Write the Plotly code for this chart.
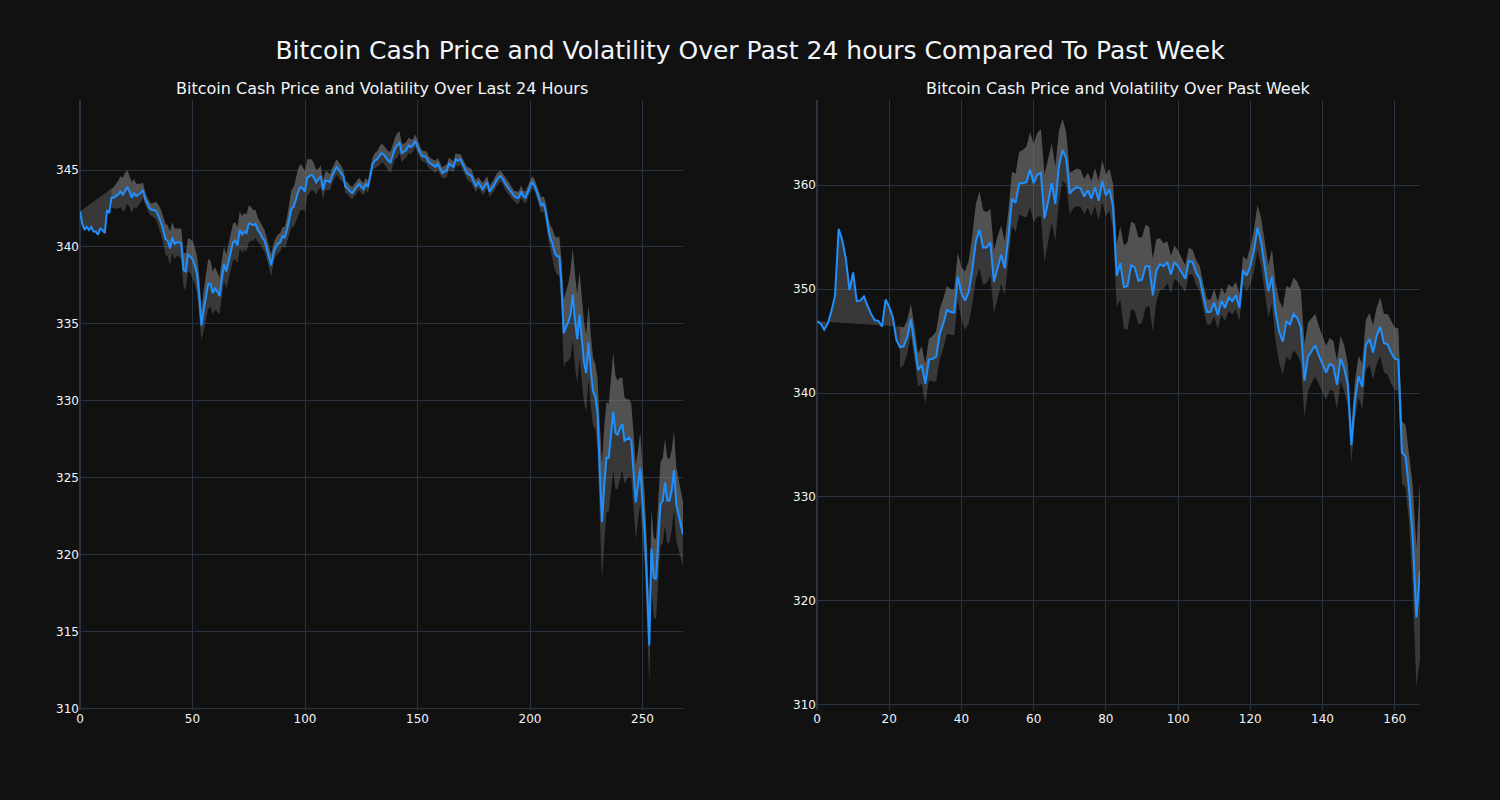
import plotly.graph_objects as go
from plotly.subplots import make_subplots

# ---------------- data: last 24 hours (5-minute steps) ----------------
day_price = [
    342.3, 341.5, 341.1, 341.3, 341.1, 341.3, 341.0, 341.0, 340.8, 341.2,
    341.1, 340.9, 342.4, 342.2, 343.2, 343.2, 343.3, 343.4, 343.6, 343.4,
    343.6, 343.9, 343.6, 343.2, 343.5, 343.3, 343.4, 343.5, 343.7, 343.1,
    342.8, 342.5, 342.4, 342.4, 342.3, 342.0, 341.6, 341.1, 340.5, 340.4,
    339.9, 340.6, 340.2, 340.3, 340.3, 340.2, 338.5, 338.4, 339.5, 339.4,
    339.2, 338.8, 338.2, 336.8, 334.9, 335.9, 336.8, 337.6, 337.6, 337.0,
    337.3, 337.1, 336.8, 337.9, 338.9, 338.4, 339.0, 339.5, 340.3, 340.4,
    340.1, 341.1, 340.8, 341.0, 340.9, 341.5, 341.5, 341.4, 341.5, 341.1,
    340.9, 340.6, 340.4, 339.9, 339.4, 338.8, 339.6, 340.0, 340.2, 340.3,
    340.7, 340.6, 341.1, 341.8, 342.5, 342.6, 343.1, 343.6, 343.9, 343.8,
    343.6, 344.5, 344.6, 344.7, 344.5, 344.2, 344.4, 344.6, 343.7, 344.3,
    344.3, 344.2, 344.6, 344.9, 345.2, 345.0, 344.8, 344.6, 343.9, 343.8,
    343.6, 343.5, 343.7, 343.9, 344.1, 343.9, 343.75, 344.1, 343.9, 344.6,
    345.4, 345.6, 345.7, 345.9, 346.1, 346.0, 345.8, 345.6, 345.5, 346.0,
    346.4, 346.6, 346.8, 346.1, 346.2, 346.3, 346.6, 346.5, 346.6, 346.9,
    346.5, 346.2, 345.9, 345.9, 345.8, 345.5, 345.4, 345.3, 345.2, 345.4,
    345.1, 344.8, 344.9, 344.95, 345.4, 345.3, 345.2, 345.7, 345.6, 345.7,
    345.4, 345.1, 344.8, 344.7, 344.6, 344.2, 343.95, 344.2, 344.0, 343.75,
    344.0, 344.2, 343.6, 343.8, 344.0, 344.3, 344.5, 344.6, 344.4, 344.1,
    343.9, 343.7, 343.5, 343.3, 343.2, 343.2, 343.6, 343.3, 343.2, 343.6,
    343.9, 344.2, 344.0, 343.6, 343.1, 342.7, 342.8, 342.3, 341.3, 340.6,
    340.2, 339.6, 339.4, 339.4, 337.5, 334.4, 334.8, 335.1, 335.6, 336.9,
    335.2, 334.0, 335.6, 334.0, 332.5, 331.8, 333.8, 332.0, 330.6, 330.3,
    329.2, 325.5, 322.1, 324.5, 326.3, 326.3, 328.0, 329.3, 327.9, 327.8,
    328.2, 328.5, 327.4, 327.5, 327.6, 327.4, 325.5, 323.4, 324.5, 325.6,
    323.4, 321.5, 318.0, 314.1, 320.4, 318.5, 318.4, 321.0, 323.3, 323.5,
    324.7, 323.5, 323.5, 324.2, 325.5, 323.3, 322.7, 322.0, 321.3,
]

day_vol = (
    [None] * 14
    + [0.6, 0.7, 0.8, 0.9, 1.0, 1.1]
    + [1.2, 1.1, 1.0, 1.0, 0.9, 0.8, 0.7, 0.6]
    + [0.5, 0.4, 0.4, 0.4, 0.4, 0.5]
    + [0.6, 0.7, 0.8, 0.9, 1.0, 1.0, 1.1, 1.0, 1.0, 0.9, 0.9, 1.0]
    + [1.1, 1.2, 1.1, 1.1, 1.2, 1.2, 1.2]
    + [1.3, 1.0, 1.3, 1.5, 1.6, 1.5, 1.4, 1.4, 1.3, 1.2, 1.2]
    + [1.1, 1.1, 1.1, 1.2, 1.2, 1.2, 1.2, 1.2, 1.2, 1.2, 1.2, 1.2, 1.1, 1.0, 0.9, 0.8, 0.7]
    + [0.7, 0.7, 0.7, 0.7, 0.7, 0.6, 0.6, 0.6, 0.6, 0.6, 0.7, 0.8]
    + [1.0, 1.2, 1.3, 1.4, 1.5, 1.5, 1.4, 1.3, 1.2, 1.1, 1.0, 0.9, 0.8]
    + [0.7, 0.7, 0.6, 0.6, 0.6, 0.5, 0.5, 0.5, 0.5, 0.5, 0.5, 0.4, 0.4]
    + [0.4, 0.4, 0.4, 0.4, 0.4, 0.4, 0.4, 0.4, 0.4, 0.4, 0.4, 0.4]
    + [0.5, 0.5, 0.6, 0.6, 0.6, 0.6, 0.6, 0.7, 0.7, 0.7, 0.8, 0.7, 0.6, 0.5, 0.5, 0.5, 0.5, 0.4, 0.4, 0.4]
    + [0.4, 0.35, 0.35, 0.4, 0.4, 0.35, 0.35, 0.4, 0.4, 0.35,
       0.35, 0.4, 0.4, 0.4, 0.35, 0.35, 0.4, 0.4, 0.35, 0.35,
       0.4, 0.4, 0.45, 0.45, 0.4, 0.4, 0.35, 0.35, 0.4, 0.4,
       0.4, 0.35, 0.35, 0.4, 0.4, 0.4, 0.35, 0.35, 0.4, 0.4,
       0.4, 0.35, 0.35, 0.4, 0.4, 0.4, 0.35, 0.4, 0.4, 0.4]
    + [0.4, 0.4, 0.4, 0.5, 0.5, 0.5, 0.6, 0.7, 0.8]
    + [1.0, 1.1, 1.2, 1.3, 1.6]
    + [2.2, 2.3, 2.5, 2.8, 3.0, 3.0, 2.9, 2.8, 2.7, 2.6, 2.5, 2.4, 2.3, 2.2, 2.1, 2.3]
    + [3.0, 3.8, 3.8, 3.6, 3.5, 3.6, 3.8, 3.7, 3.5, 3.3, 3.0, 2.8, 2.6, 2.5, 2.4]
    + [2.4, 2.4, 2.3, 2.3, 2.3, 2.3, 2.4, 2.5, 2.5, 2.6]
    + [2.6, 2.6, 2.7, 2.8, 2.8, 2.8, 2.7, 2.6, 2.5, 2.4, 2.3, 2.2, 2.1]
)

# ---------------- data: past week (hourly) ----------------
week_price = [
    346.9, 346.7, 346.1, 346.7, 347.9, 349.4, 355.8, 354.7, 352.9, 349.9,
    351.6, 348.85, 348.9, 349.3, 348.4, 347.6, 347.0, 346.95, 346.4, 349.0,
    348.3, 347.3, 345.1, 344.4, 344.5, 345.4, 347.1, 344.8, 342.2, 342.7,
    340.9, 343.2, 343.3, 343.5, 345.7, 346.7, 348.0, 347.8, 347.75, 351.2,
    349.6, 348.9, 349.7, 351.8, 354.6, 355.7, 354.0, 354.0, 354.5, 350.7,
    352.1, 353.3, 352.0, 355.0, 358.7, 358.3, 360.2, 360.2, 360.3, 361.5,
    360.2, 361.0, 361.2, 356.8, 358.4, 360.2, 358.2, 361.8, 363.4, 362.6,
    359.2, 359.6, 359.8, 359.7, 358.9, 359.5, 358.7, 359.8, 358.5, 360.4,
    359.0, 359.6, 357.9, 351.3, 352.5, 350.2, 350.3, 352.3, 352.1, 350.8,
    350.9, 352.2, 352.2, 349.4, 351.8, 352.4, 352.2, 352.6, 351.4, 352.6,
    352.2, 351.6, 351.0, 352.7, 352.6, 351.6, 351.0, 349.3, 347.8, 347.8,
    348.7, 347.5, 348.85, 348.2, 349.2, 348.85, 349.4, 348.2, 351.8, 351.3,
    352.2, 353.7, 355.9, 354.5, 352.2, 349.8, 351.2, 347.8, 345.9, 344.95,
    346.9, 346.6, 347.6, 347.2, 346.35, 341.2, 343.5, 344.1, 344.6, 343.6,
    342.7, 341.96, 342.8, 342.6, 340.8, 343.3, 342.4, 340.8, 335.0, 339.4,
    341.6, 340.6, 344.6, 345.2, 343.9, 345.5, 346.4, 344.8, 344.7, 343.9,
    343.3, 343.2, 334.3, 333.9, 330.6, 326.0, 318.4, 322.9,
]

week_vol = (
    [None] * 23
    + [2.0, 1.8, 1.6, 1.5, 1.5, 1.6, 1.8, 1.9]
    + [2.0, 2.2, 2.4, 2.4, 2.4, 2.3, 2.2, 2.2, 2.3]
    + [2.5, 2.8, 3.0, 3.3, 3.6, 3.7, 3.6, 3.4, 3.2]
    + [3.0, 3.0, 2.8, 2.6, 2.5, 2.6, 2.8]
    + [3.0, 3.2, 3.4, 3.6, 3.8, 4.0, 4.2, 4.2, 4.0, 3.8, 3.6, 3.4, 3.0, 2.5]
    + [2.0, 1.8, 1.8, 1.8, 1.7, 1.7, 1.7, 1.8, 1.9, 2.0, 2.0, 2.0, 2.2]
    + [3.0, 3.5, 4.0, 4.2, 4.2, 4.2, 4.2, 4.1, 4.0, 3.8, 3.5, 3.0, 2.5]
    + [2.2, 2.0, 1.8, 1.6, 1.5, 1.4, 1.3, 1.3, 1.2, 1.2, 1.2]
    + [1.2, 1.2, 1.2, 1.3, 1.3, 1.3, 1.3, 1.3, 1.3, 1.3, 1.3, 1.4]
    + [1.5, 1.8, 2.0, 2.2, 2.3, 2.4, 2.5, 2.6, 2.8]
    + [3.0, 3.2, 3.4, 3.5, 3.5, 3.5, 3.5, 3.5]
    + [3.3, 3.1, 3.0, 2.8, 2.7, 2.6, 2.5, 2.4, 2.3, 2.2, 2.2, 2.0]
    + [1.8, 1.8, 2.0, 2.2, 2.4, 2.5, 2.6, 2.7]
    + [2.8, 2.8, 2.9, 3.0, 3.0, 3.0]
    + [3.0, 3.0, 3.2, 5.0, 6.7, 8.5]
)

main_title = "Bitcoin Cash Price and Volatility Over Past 24 hours Compared To Past Week"
sub_titles = ["Bitcoin Cash Price and Volatility Over Last 24 Hours",
              "Bitcoin Cash Price and Volatility Over Past Week"]

LINE_COLOR = "#1E90FF"
BAND_COLOR = "rgba(128,128,128,0.36)"
FONT = "DejaVu Sans"


def band(price, vol, sign):
    return [None if v is None else p + sign * v for p, v in zip(price, vol)]


fig = make_subplots(rows=1, cols=2, subplot_titles=sub_titles, horizontal_spacing=0.1)

for col, price, vol in [(1, day_price, day_vol), (2, week_price, week_vol)]:
    x = list(range(len(price)))
    upper = band(price, vol, 1)
    lower = band(price, vol, -1)
    fig.add_trace(go.Scatter(x=x, y=price, mode="lines", line=dict(width=0),
                             showlegend=False, hoverinfo="skip"), row=1, col=col)
    fig.add_trace(go.Scatter(x=x, y=upper, mode="lines", line=dict(width=0),
                             fill="tonexty", fillcolor=BAND_COLOR,
                             showlegend=False, name="Upper"), row=1, col=col)
    fig.add_trace(go.Scatter(x=x, y=lower, mode="lines", line=dict(width=0),
                             fill="tonexty", fillcolor=BAND_COLOR,
                             showlegend=False, name="Lower"), row=1, col=col)
    fig.add_trace(go.Scatter(x=x, y=price, mode="lines",
                             line=dict(color=LINE_COLOR, width=2),
                             showlegend=False, name="Price"), row=1, col=col)

fig.update_xaxes(range=[0, 268], row=1, col=1)
fig.update_xaxes(range=[0, 167], row=1, col=2)
fig.update_yaxes(range=[309.9, 349.55], row=1, col=1)
fig.update_yaxes(range=[309.5, 368.2], dtick=10, row=1, col=2)

fig.update_layout(
    template="plotly_dark",
    width=1500, height=800,
    margin=dict(l=80, r=80, t=100, b=90),
    font=dict(family=FONT),
    title=dict(text=main_title, x=0.5, xanchor="center", y=0.9375, yanchor="middle",
               font=dict(size=25, family=FONT)),
    paper_bgcolor="#111111", plot_bgcolor="#111111",
)
for ann in fig.layout.annotations:
    ann.font = dict(size=16, family=FONT)

fig.write_html(
    "out.html",
    config={"displayModeBar": False},
    post_script="document.body.style.margin='0';document.body.style.background='#111111';",
)
